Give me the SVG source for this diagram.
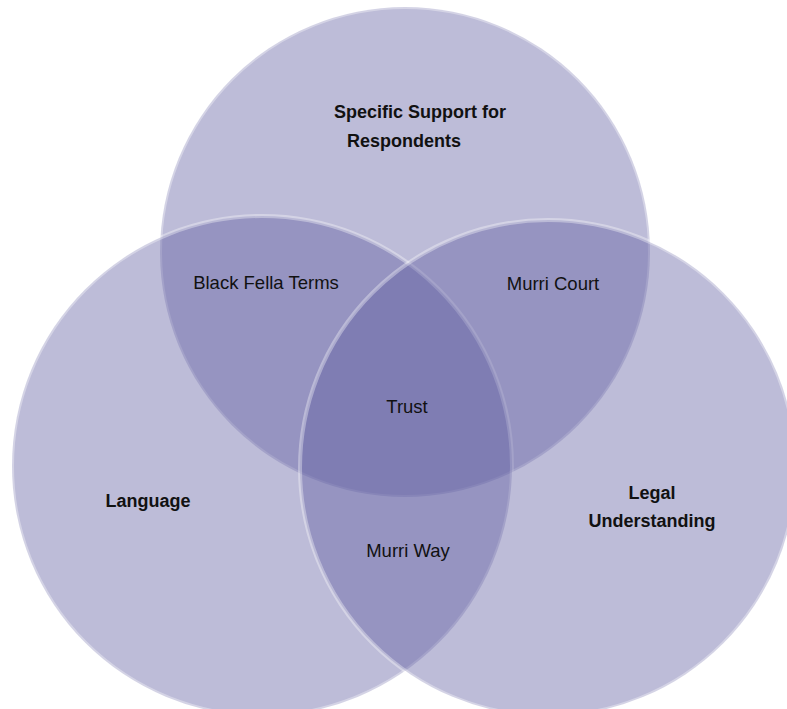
<svg xmlns="http://www.w3.org/2000/svg" width="787" height="709" viewBox="0 0 787 709">
<style>
.c{fill:#5e5ca0;fill-opacity:0.41;stroke:#ffffff;stroke-opacity:0.35;stroke-width:4}
text{font-family:"Liberation Sans",Arial,sans-serif;font-size:18.5px;fill:#111;text-anchor:middle}
.b{font-weight:bold;font-size:18px}
</style>
<rect width="787" height="709" fill="#ffffff"/>
<g id="top"><circle class="c" cx="405" cy="252" r="245"/></g>
<g id="left"><circle class="c" cx="262" cy="466" r="250"/></g>
<g id="right"><circle class="c" cx="548" cy="468" r="248"/></g>
<g id="labels">
<text class="b" x="420" y="118">Specific Support for</text>
<text class="b" x="404" y="147">Respondents</text>
<text x="266" y="289">Black Fella Terms</text>
<text x="553" y="290">Murri Court</text>
<text x="407" y="413">Trust</text>
<text class="b" x="148" y="507">Language</text>
<text class="b" x="652" y="499">Legal</text>
<text class="b" x="652" y="527">Understanding</text>
<text x="408" y="557">Murri Way</text>
</g>
<g id="connectors"/>
</svg>
